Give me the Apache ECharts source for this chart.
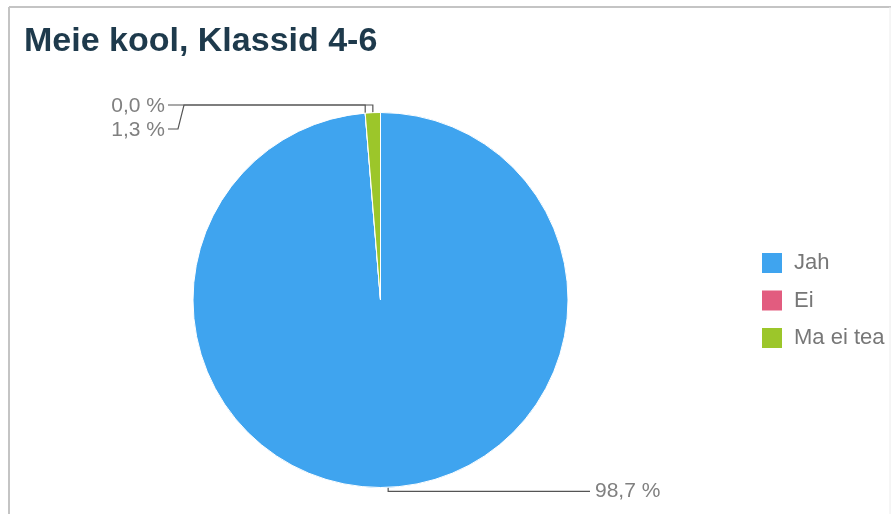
<!DOCTYPE html>
<html>
<head>
<meta charset="utf-8">
<script src="https://cdn.jsdelivr.net/npm/echarts@6/dist/echarts.min.js"></script>
<style>
html,body{margin:0;padding:0;background:#fff;}
#chart{width:892px;height:514px;}
</style>
</head>
<body>
<div id="chart"></div>
<script>
var titleText = 'Meie kool, Klassid 4-6';
var categories = ['Jah', 'Ei', 'Ma ei tea'];
var values = [98.7, 0.0, 1.3];
var colors = ['#3fa4ef', '#e25c7f', '#9cc62a'];

function fmt(v) { return v.toFixed(1).replace('.', ',') + ' %'; }

var chart = echarts.init(document.getElementById('chart'), null, {renderer: 'canvas'});

var leftLabelX = 165, rightLabelX = 595, topLineY = 105;

chart.setOption({
  animation: false,
  color: colors,
  title: {
    text: titleText,
    left: 19, top: 20,
    textStyle: {fontFamily: 'Liberation Sans, Arial, sans-serif', fontSize: 34, fontWeight: 'bold', color: '#1e3a4c'}
  },
  graphic: [
    {type: 'line', silent: true, shape: {x1: 9, y1: 7, x2: 891, y2: 7}, style: {stroke: '#c4c4c4', lineWidth: 2}},
    {type: 'line', silent: true, shape: {x1: 9, y1: 7, x2: 9, y2: 514}, style: {stroke: '#c4c4c4', lineWidth: 2}},
    {type: 'line', silent: true, shape: {x1: 890, y1: 7, x2: 890, y2: 514}, style: {stroke: '#ececec', lineWidth: 1}}
  ],
  legend: {
    orient: 'vertical',
    left: 755, top: 246,
    itemWidth: 22, itemHeight: 22, itemGap: 13.5,
    icon: 'rect',
    textStyle: {fontFamily: 'Liberation Sans, Arial, sans-serif', fontSize: 22, color: '#777', padding: [0, 0, 0, 6]},
    data: categories
  },
  series: [{
    type: 'pie',
    center: [380.5, 300],
    radius: 187.5,
    startAngle: 90,
    clockwise: true,
    avoidLabelOverlap: false,
    itemStyle: {borderColor: '#fff', borderWidth: 1},
    label: {
      show: true,
      formatter: function (p) { return fmt(p.value); },
      fontFamily: 'Liberation Sans, Arial, sans-serif',
      fontSize: 21,
      color: '#808080'
    },
    labelLine: {show: true, length: 10, length2: 10, lineStyle: {color: '#555', width: 1.2}},
    labelLayout: function (params) {
      var pts = params.labelLinePoints;
      var p = pts ? pts[0] : [380, 300];
      if (params.dataIndex === 0) {
        var y = p[1] + 4;
        return {
          x: rightLabelX, y: y, align: 'left', verticalAlign: 'middle',
          labelLinePoints: [p, [p[0], y], [rightLabelX - 5, y]]
        };
      } else if (params.dataIndex === 1) {
        return {
          x: leftLabelX, y: topLineY + 1, align: 'right', verticalAlign: 'middle',
          labelLinePoints: [p, [p[0], topLineY], [leftLabelX + 3, topLineY]]
        };
      } else {
        var y2 = topLineY + 24;
        return {
          x: leftLabelX, y: y2 + 1, align: 'right', verticalAlign: 'middle',
          labelLinePoints: [p, [p[0], topLineY], [leftLabelX + 19, topLineY], [leftLabelX + 13, y2], [leftLabelX + 3, y2]]
        };
      }
    },
    emphasis: {disabled: true},
    data: categories.map(function (c, i) { return {name: c, value: values[i]}; })
  }]
});
</script>
</body>
</html>
